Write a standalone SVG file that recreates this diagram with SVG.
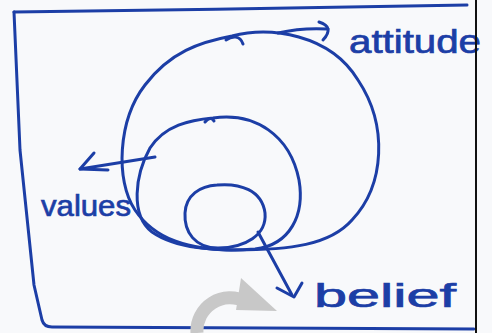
<svg xmlns="http://www.w3.org/2000/svg" width="492" height="333" viewBox="0 0 492 333">
<style>
.ink{fill:none;stroke:#1c3ea6;stroke-width:3;stroke-linecap:round;stroke-linejoin:round}
.lbl{font-family:"Liberation Sans","DejaVu Sans",sans-serif;fill:#1c3ea6;stroke:#1c3ea6;stroke-width:0.7}
</style>
<rect width="492" height="333" fill="#f8f9fb"/>
<g id="frame">
<path class="ink" d="M14,12 C150,10 350,8 467,5"/>
<path class="ink" d="M14,12 L20,150 L34,285 L42,320 Q44,327 52,327 L474,329"/>
</g>
<g id="node-attitude">
<path class="ink" d="M232,36 C270,26 330,34 358,80 C388,125 385,185 352,220 C330,245 290,250 235,250 C190,250 155,240 135,210 C115,180 118,120 145,85 C170,52 200,42 232,36 Z"/>
<path class="ink" d="M226,40 C232,36 240,35 243,44"/>
<text class="lbl" x="349" y="53" font-size="33" textLength="132" lengthAdjust="spacingAndGlyphs">attitude</text>
</g>
<g id="node-values">
<path class="ink" d="M213,118 C255,112 290,135 299,180 C305,215 290,245 255,249 C215,252 175,248 152,232 C130,215 135,175 150,148 C165,125 190,120 213,118 Z"/>
<path class="ink" d="M205,122 C208,118 212,117 214,121"/>
<text class="lbl" x="41" y="216" font-size="30" textLength="90" lengthAdjust="spacingAndGlyphs">values</text>
</g>
<g id="node-belief">
<path class="ink" d="M217,185 C240,183 262,190 265,213 C267,235 245,248 218,248 C195,248 184,232 185,213 C186,195 200,186 217,185 Z"/>
<text class="lbl" x="314" y="307" font-size="34" textLength="142" lengthAdjust="spacingAndGlyphs">belief</text>
</g>
<g id="connectors">
<path class="ink" d="M278,33 C295,29 312,28 328,29"/>
<path class="ink" d="M319,22 Q335,27 323,40"/>
<path class="ink" d="M155,157 L80,169"/>
<path class="ink" d="M94,153 L80,169 L108,170"/>
<path class="ink" d="M258,232 L292,295"/>
<path class="ink" d="M277,288 L294,297 L302,283"/>
</g>
<line x1="476" y1="0" x2="476" y2="333" stroke="#111" stroke-width="2"/>
<g id="overlay" fill="#c8c8c8">
<path d="M197,333 A33,33 0 0 1 246,302" fill="none" stroke="#c8c8c8" stroke-width="13"/>
<polygon points="241,278 277,311 236,310"/>
</g>
</svg>
